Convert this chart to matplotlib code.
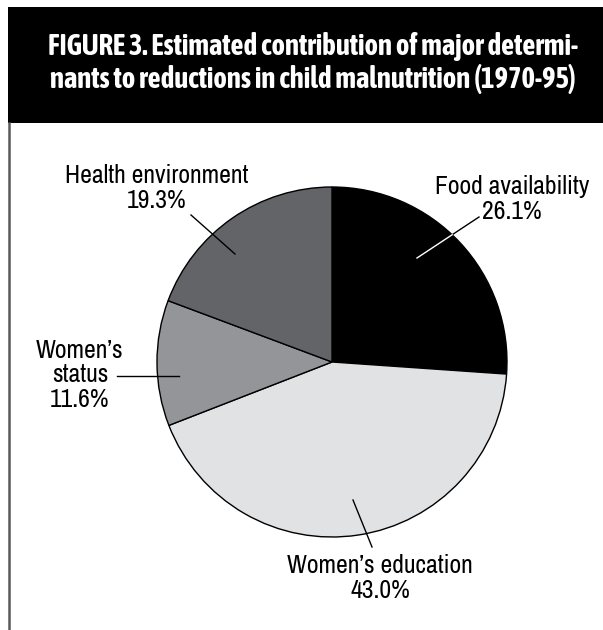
import matplotlib
matplotlib.use("Agg")
import matplotlib.pyplot as plt
import numpy as np
from matplotlib.patches import Rectangle
from matplotlib.lines import Line2D

W, H = 603, 630
DPI = 100

categories = ["Food availability", "Women’s education", "Women’s status", "Health environment"]
values = [26.1, 43.0, 11.6, 19.3]
colors = ["#000000", "#e1e2e4", "#939598", "#636467"]
title = "FIGURE 3. Estimated contribution of major determi-\nnants to reductions in child malnutrition (1970-95)"

LABEL_FONT = ["Archivo Narrow", "DejaVu Sans"]
TITLE_FONT = ["Asap Condensed", "DejaVu Sans"]
plt.rcParams['font.family'] = LABEL_FONT

fig = plt.figure(figsize=(W / DPI, H / DPI), dpi=DPI)
fig.patch.set_facecolor("white")

def fx(px):
    return px / W

def fy(py):
    return 1 - py / H

# Header band
fig.patches.append(Rectangle((fx(8), fy(123)), fx(603) - fx(8), fy(7) - fy(123),
                             transform=fig.transFigure, facecolor="black", edgecolor="none"))
fig.text(fx(313), fy(63), title, color="white", fontsize=20.6, fontweight="bold",
         ha="center", va="center", linespacing=1.13, family=TITLE_FONT)
# Left frame line
fig.lines.append(Line2D([fx(9), fx(9)], [fy(123), fy(630)], transform=fig.transFigure,
                        color="#58595b", linewidth=1.8))

# Pie axes: center (332, 362), radius 175 px
cx, cy, r = 332, 362, 175
ax = fig.add_axes([fx(cx - r), fy(cy + r), 2 * r / W, 2 * r / H])
ax.pie(values, colors=colors, startangle=90, counterclock=False, radius=1,
       wedgeprops=dict(edgecolor="black", linewidth=1.0))
ax.set_xlim(-1, 1)
ax.set_ylim(-1, 1)
ax.set_aspect("auto")
ax.axis("off")

def d(px, py):
    return ((px - cx) / r, (cy - py) / r)

labels = [f"{c}\n{v:.1f}%" for c, v in zip(categories, values)]
labels[2] = "Women’s\nstatus\n" + f"{values[2]:.1f}%"

text_pos = [d(512, 199), d(380, 578), d(80, 375), d(157, 188)]
leaders = [
    (d(479, 217), d(417, 258)),
    (d(353, 500), d(372, 547)),
    (d(117, 376), d(179, 376)),
    (d(191, 215), d(235, 254)),
]

for lab, pos in zip(labels, text_pos):
    ax.text(pos[0], pos[1], lab, ha="center", va="center", fontsize=18.5,
            linespacing=1.1, clip_on=False, family=LABEL_FONT)

for i, ((x1, y1), (x2, y2)) in enumerate(leaders):
    ax.plot([x1, x2], [y1, y2], color="black", linewidth=1.0, clip_on=False)
    if i == 0:
        # part of the leader inside the black wedge is drawn in white
        ts = np.linspace(0, 1, 2001)
        xs = x1 + (x2 - x1) * ts
        ys = y1 + (y2 - y1) * ts
        k = np.argmax(xs ** 2 + ys ** 2 <= 1.0)
        ax.plot([xs[k], x2], [ys[k], y2], color="white", linewidth=1.0, clip_on=False)

fig.savefig("out.png", dpi=DPI, facecolor="white")
